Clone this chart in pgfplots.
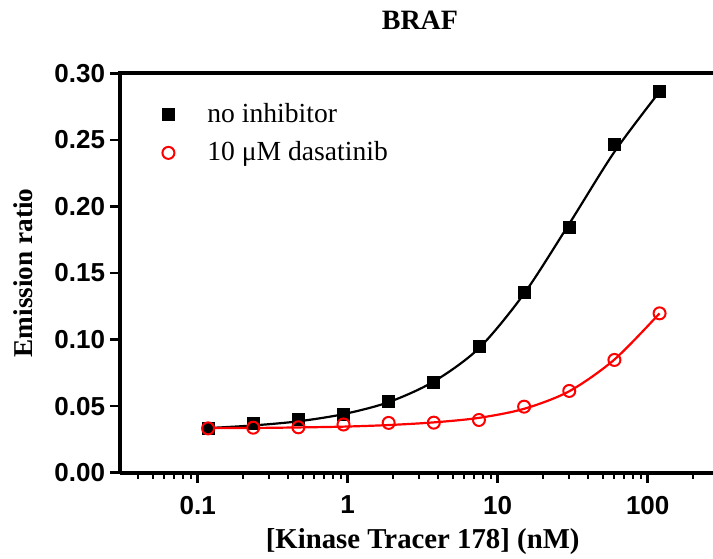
\documentclass[border=0pt]{standalone}
\usepackage{pgfplots}
\pgfplotsset{compat=1.18}
\usepackage{fontspec}
\setmainfont{Liberation Serif}
\newfontfamily\arial{Liberation Sans}
\begin{document}
\begin{tikzpicture}
\begin{axis}[
  name=ax,
  scale only axis, width=296.25pt, height=199.7pt,
  xmode=log, xmin=0.03056, xmax=272.5, ymin=0, ymax=0.30,
  axis lines=left, axis line style={-, line width=2pt},
  tick align=outside,
  xtick={0.1,1,10,100}, xticklabels={0.1,1,10,100},
  minor xtick={0.04,0.05,0.06,0.07,0.08,0.09,0.2,0.3,0.4,0.5,0.6,0.7,0.8,0.9,2,3,4,5,6,7,8,9,20,30,40,50,60,70,80,90,200},
  ytick={0,0.05,0.10,0.15,0.20,0.25,0.30},
  yticklabels={0.00,0.05,0.10,0.15,0.20,0.25,0.30},
  major tick length=5pt, minor tick length=3pt,
  every tick/.style={black, line width=1.3pt},
  every minor tick/.style={black, line width=1pt},
  ticklabel style={font=\arial\bfseries\fontsize{13}{13}\selectfont},
  yticklabel style={inner sep=2.5pt},
  xticklabel style={inner sep=2pt, yshift=-4.5pt},
  xlabel={[Kinase Tracer 178] (nM)},
  xlabel style={font=\bfseries\fontsize{14.4}{14.4}\selectfont, at={(axis description cs:0.51,-0.1888)}, anchor=base},
  ylabel={Emission ratio},
  ylabel style={font=\bfseries\fontsize{13.6}{13.6}\selectfont, at={(axis description cs:-0.1477,0.5)}, anchor=base, rotate=0},
  legend cell align=left,
  legend style={draw=none, fill=none, at={(axis description cs:0.0397,0.935)}, anchor=north west, font=\fontsize{13.8}{16}\selectfont, row sep=4pt, inner sep=0pt},
  legend image code/.code={\path[draw=none,fill=none] (0pt,-3pt) rectangle (29.5pt,3pt); \draw[mark repeat=2,mark phase=2,#1] plot coordinates {(0pt,0pt)(12pt,0pt)(24pt,0pt)};},
]
\addplot[black, line width=1.1pt, smooth, forget plot] coordinates {
(0.1172,0.0335) (0.2344,0.0355) (0.4688,0.0386) (0.9375,0.0440) (1.875,0.0530) (3.75,0.0685) (7.5,0.0935) (15,0.1345) (30,0.1870) (60,0.2410) (120,0.2862)};
\addplot[red, line width=1.1pt, smooth, forget plot] coordinates {
(0.1172,0.0335) (0.2344,0.0336) (0.4688,0.0340) (0.9375,0.0346) (1.875,0.0358) (3.75,0.0378) (7.5,0.0412) (15,0.0480) (30,0.0612) (60,0.0850) (120,0.1197)};
\addplot[only marks, mark=square*, mark size=3pt, black] coordinates {
(0.1172,0.0333) (0.2344,0.0368) (0.4688,0.0401) (0.9375,0.0439) (1.875,0.0533) (3.75,0.0675) (7.5,0.0945) (15,0.1355) (30,0.1843) (60,0.2469) (120,0.2867)};
\addplot[only marks, mark=o, mark size=3pt, red, line width=1pt] coordinates {
(0.1172,0.0333) (0.2344,0.0338) (0.4688,0.0341) (0.9375,0.0362) (1.875,0.0374) (3.75,0.0376) (7.5,0.0396) (15,0.0496) (30,0.0614) (60,0.0847) (120,0.1197)};
\legend{no inhibitor, 10 μM dasatinib}
\end{axis}
\draw[line width=2pt] ([xshift=-1pt]ax.north west) -- (ax.north east);
\node[font=\bfseries\fontsize{14}{14}\selectfont, anchor=base, inner sep=0pt] at ([xshift=1.6pt, yshift=22pt]ax.north) {BRAF};
\pgfresetboundingbox
\path[use as bounding box] ([xshift=-60.25pt, yshift=-42.65pt]ax.south west) rectangle ([yshift=36.65pt]ax.north east);
\end{tikzpicture}
\end{document}
